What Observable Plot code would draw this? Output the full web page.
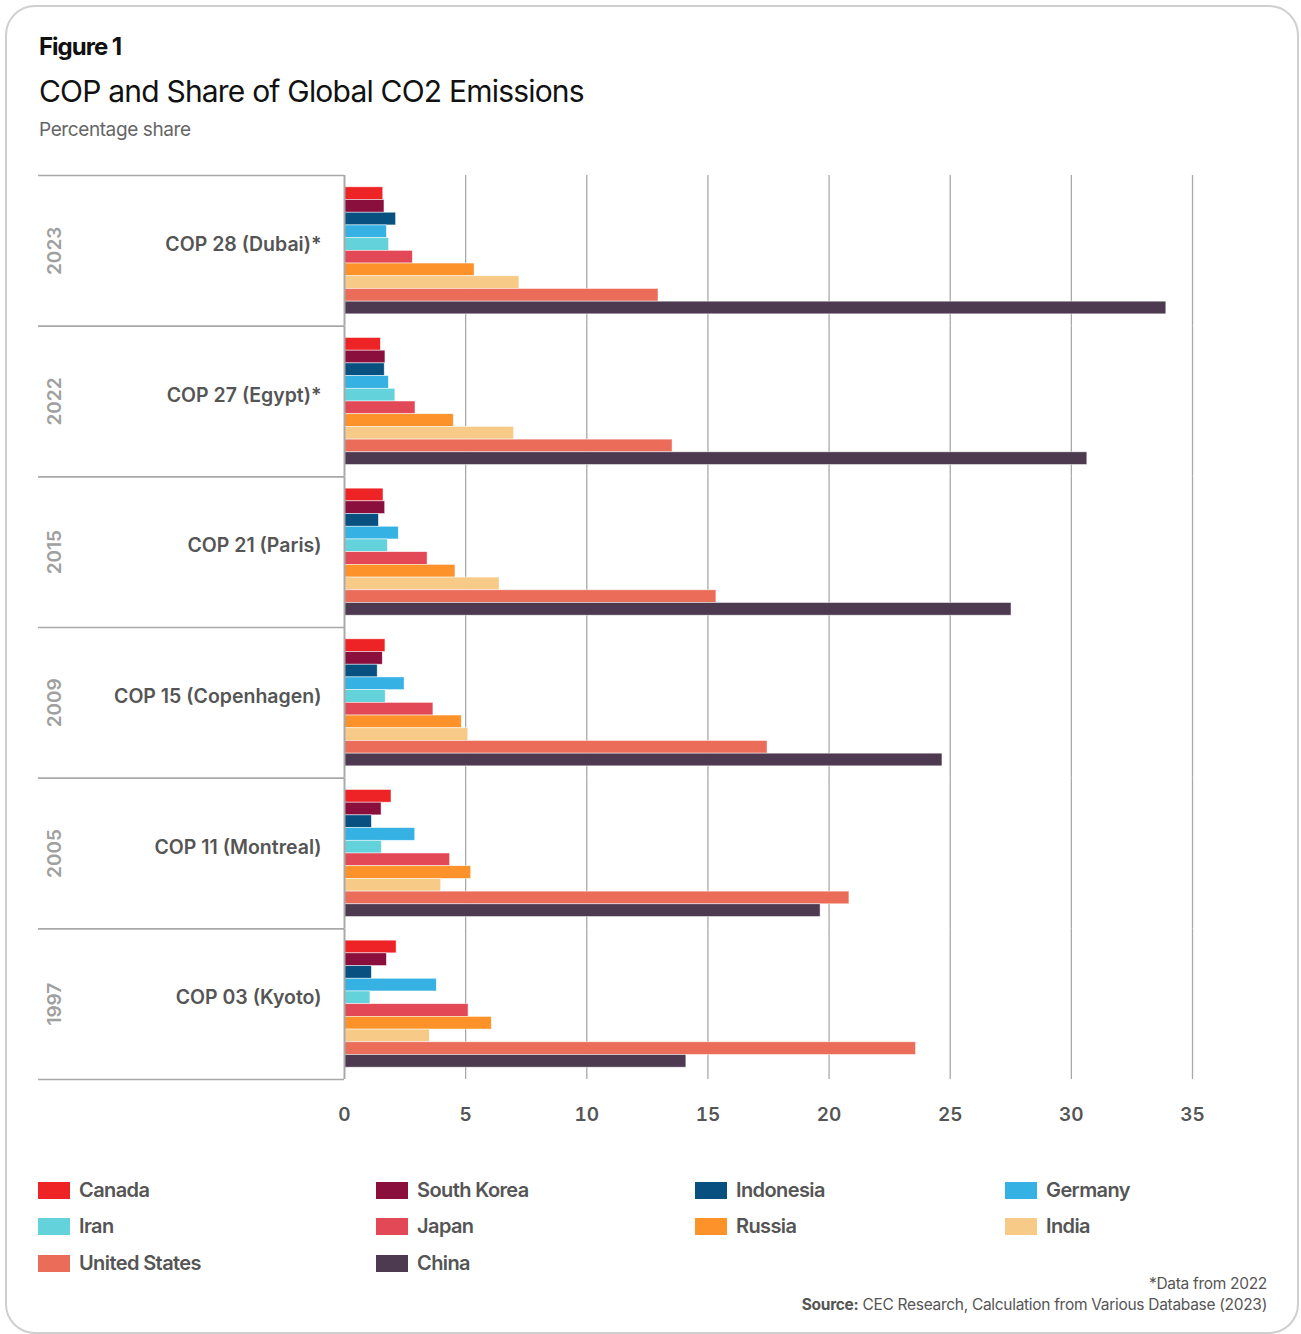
<!DOCTYPE html>
<html>
<head>
<meta charset="utf-8">
<script src="https://cdn.jsdelivr.net/npm/d3@7"></script>
<script src="https://cdn.jsdelivr.net/npm/@observablehq/plot@0.6"></script>
<style>
  html, body { margin: 0; padding: 0; background: #fff; }
  body { width: 1301px; height: 1334px; position: relative; overflow: hidden; font-family: Inter, "Noto Sans", sans-serif; }
  .card { position: absolute; left: 5px; top: 5px; width: 1290px; height: 1325px; border: 2px solid #cfcfcf; border-radius: 30px; }
  .fig { position: absolute; left: 39px; top: 32px; font-size: 24px; font-weight: 700; letter-spacing: -1px; color: #111; }
  .title { position: absolute; left: 39px; top: 73px; font-size: 30px; font-weight: 400; letter-spacing: -0.8px; color: #111; }
  .sub { position: absolute; left: 39px; top: 118px; font-size: 19px; color: #666; letter-spacing: -0.4px; }
  #chart { position: absolute; left: 0; top: 165px; }
  .legend { position: absolute; left: 38px; top: 1178px; }
  .item { position: absolute; display: flex; align-items: center; white-space: nowrap; font-size: 20px; font-weight: 600; color: #555; letter-spacing: -0.6px; }
  .sw { width: 32px; height: 17px; margin-right: 9px; }
  .note { position: absolute; right: 34px; font-size: 15.5px; color: #555; letter-spacing: -0.3px; }
</style>
</head>
<body>
<div class="card"></div>
<div class="fig">Figure 1</div>
<div class="title">COP and Share of Global CO2 Emissions</div>
<div class="sub">Percentage share</div>
<div id="chart"></div>
<div class="legend" id="legend"></div>
<div class="note" style="top:1274px">*Data from 2022</div>
<div class="note" style="top:1295px"><b>Source:</b> CEC Research, Calculation from Various Database (2023)</div>
<script>
// Conferences, top to bottom
const copLabels = ["COP 28 (Dubai)*", "COP 27 (Egypt)*", "COP 21 (Paris)", "COP 15 (Copenhagen)", "COP 11 (Montreal)", "COP 03 (Kyoto)"];
const copYears = ["2023", "2022", "2015", "2009", "2005", "1997"];

// Countries in bar order within each conference
const countries = ["Canada", "South Korea", "Indonesia", "Germany", "Iran", "Japan", "Russia", "India", "United States", "China"];
const colors = ["#EE2326", "#8B0F3D", "#07507F", "#35B2E3", "#64D2DA", "#E34857", "#FD922B", "#F7CB87", "#EC6C5A", "#4E3A50"];

// Share of global CO2 emissions (%), one value per conference
const canada       = [1.60, 1.50, 1.61, 1.69, 1.94, 2.15];
const southKorea   = [1.65, 1.69, 1.68, 1.58, 1.53, 1.75];
const indonesia    = [2.13, 1.66, 1.42, 1.37, 1.13, 1.13];
const germany      = [1.75, 1.83, 2.24, 2.48, 2.92, 3.81];
const iran         = [1.84, 2.10, 1.79, 1.70, 1.54, 1.07];
const japan        = [2.82, 2.93, 3.43, 3.67, 4.36, 5.12];
const russia       = [5.37, 4.51, 4.58, 4.84, 5.23, 6.08];
const india        = [7.22, 7.00, 6.40, 5.11, 3.99, 3.52];
const unitedStates = [12.96, 13.54, 15.35, 17.46, 20.84, 23.59];
const china        = [33.92, 30.66, 27.53, 24.68, 19.65, 14.11];

const xTicks = [0, 5, 10, 15, 20, 25, 30, 35];

const series = [canada, southKorea, indonesia, germany, iran, japan, russia, india, unitedStates, china];
const rows = [];
copLabels.forEach((cop, i) => {
  countries.forEach((c, k) => {
    rows.push({cop, country: c, idx: k, value: series[k][i]});
  });
});
const events = copLabels.map((cop, i) => ({cop, year: copYears[i]}));
const pad = 0.93;
const lineColor = "#a9a9a9";

const chart = Plot.plot({
  width: 1301,
  height: 980,
  marginLeft: 344,
  marginRight: 109,
  marginTop: 10,
  marginBottom: 66,
  style: {fontFamily: "Inter, 'Noto Sans', sans-serif", background: "transparent"},
  x: {domain: [0, 35], axis: null},
  y: {domain: [-pad, countries.length + pad], reverse: true, axis: null},
  fy: {domain: copLabels, padding: 0, round: false, axis: null},
  color: {domain: countries, range: colors},
  marks: [
    Plot.ruleX(xTicks.slice(1), {stroke: lineColor, strokeWidth: 1.3}),
    Plot.rectX(rows, {
      fy: "cop",
      x1: 0,
      x2: "value",
      y1: "idx",
      y2: d => d.idx + 1,
      fill: "country",
      stroke: "white",
      strokeWidth: 0.7,
      strokeOpacity: 0.7
    }),
    Plot.ruleX([0], {stroke: lineColor, strokeWidth: 2}),
    // group separators across the label column
    Plot.ruleY(events, {fy: "cop", y: () => -pad, x1: 0, x2: 0, insetLeft: -306, stroke: lineColor, strokeWidth: 1.6}),
    Plot.ruleY(events.slice(-1), {fy: "cop", y: () => countries.length + pad, x1: 0, x2: 0, insetLeft: -306, stroke: lineColor, strokeWidth: 1.6}),
    Plot.text(events, {
      fy: "cop", text: "cop", frameAnchor: "left", dx: -23, dy: -6,
      textAnchor: "end", fontSize: 19.5, fontWeight: 600, fill: "#555", letterSpacing: -0.3
    }),
    Plot.text(events, {
      fy: "cop", text: "year", frameAnchor: "left", dx: -290,
      rotate: -90, textAnchor: "middle", fontSize: 19, fontWeight: 600, fill: "#a0a0a0"
    }),
    Plot.axisX({
      ticks: xTicks, tickSize: 0, tickPadding: 28, fontSize: 19, fontWeight: 600,
      color: "#555", label: null, facetAnchor: "bottom"
    })
  ]
});
document.getElementById("chart").appendChild(chart);

// Legend: four columns, filled row by row
const legend = document.getElementById("legend");
const colX = [0, 338, 657, 967];
const rowY = [0, 36, 73];
countries.forEach((c, k) => {
  const div = document.createElement("div");
  div.className = "item";
  div.style.left = colX[k % 4] + "px";
  div.style.top = rowY[Math.floor(k / 4)] + "px";
  div.innerHTML = `<span class="sw" style="background:${colors[k]}"></span>${c}`;
  legend.appendChild(div);
});
</script>
</body>
</html>
